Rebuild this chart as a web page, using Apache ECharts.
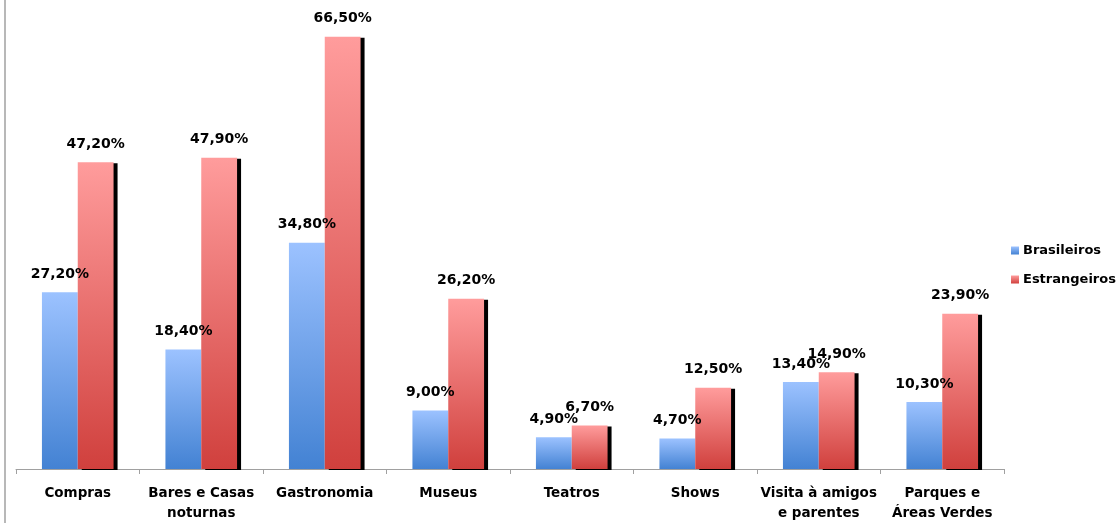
<!DOCTYPE html>
<html><head><meta charset="utf-8">
<script src="https://cdn.jsdelivr.net/npm/echarts@6/dist/echarts.min.js"></script>
<style>html,body{margin:0;padding:0;background:#fff}#c{width:1120px;height:523px}</style>
</head><body><div id="c"></div>
<script>
var categories = ['Compras','Bares e Casas\nnoturnas','Gastronomia','Museus','Teatros','Shows','Visita à amigos\ne parentes','Parques e\nÁreas Verdes'];
var seriesNames = ['Brasileiros','Estrangeiros'];
var brasileiros = [27.2, 18.4, 34.8, 9.0, 4.9, 4.7, 13.4, 10.3];
var estrangeiros = [47.2, 47.9, 66.5, 26.2, 6.7, 12.5, 14.9, 23.9];

var FONT = 'DejaVu Sans';
function grad(top, bottom){
  return new echarts.graphic.LinearGradient(0,0,0,1,[{offset:0,color:top},{offset:1,color:bottom}]);
}
function fmt(p){ return p.value.toFixed(2).replace('.', ',') + '%'; }
var chart = echarts.init(document.getElementById('c'), null, {renderer:'canvas'});
chart.setOption({
  animation:false,
  backgroundColor:'#fff',
  graphic:[{type:'line', shape:{x1:5,y1:0,x2:5,y2:523}, style:{stroke:'#a0a0a0', lineWidth:1.5}, silent:true}],
  grid:{left:16, right:116, top:14, bottom:54, containLabel:false, outerBoundsMode:'none'},
  legend:{
    orient:'vertical', left:1006, top:239, itemWidth:8, itemHeight:8, itemGap:16,
    icon:'rect',
    textStyle:{fontFamily:FONT, fontWeight:'bold', fontSize:13, color:'#000', padding:[0,0,0,-1]},
    data:seriesNames
  },
  xAxis:{
    type:'category', data:categories,
    axisLine:{lineStyle:{color:'#a0a0a0', width:1}},
    axisTick:{show:true, alignWithLabel:false, length:5, lineStyle:{color:'#a0a0a0'}},
    axisLabel:{fontFamily:FONT, fontWeight:'bold', fontSize:13.5, color:'#000', margin:14, lineHeight:20, interval:0}
  },
  yAxis:{type:'value', min:0, max:70, show:false, splitLine:{show:false}},
  series:[
    {name:seriesNames[0], type:'bar', data:brasileiros, barWidth:'29%', barGap:'0%',
     itemStyle:{color:grad('#9cc2ff','#4382d3')},
     label:{show:true, position:'top', distance:11, formatter:fmt, fontFamily:FONT, fontWeight:'bold', fontSize:14, color:'#000'}},
    {name:seriesNames[1], type:'bar', data:estrangeiros, barWidth:'29%', barGap:'0%',
     itemStyle:{color:grad('#ff9c9c','#d0403d'), shadowColor:'#000', shadowOffsetX:4, shadowOffsetY:1, shadowBlur:0},
     label:{show:true, position:'top', distance:11, formatter:fmt, fontFamily:FONT, fontWeight:'bold', fontSize:14, color:'#000'}}
  ]
});
</script></body></html>
